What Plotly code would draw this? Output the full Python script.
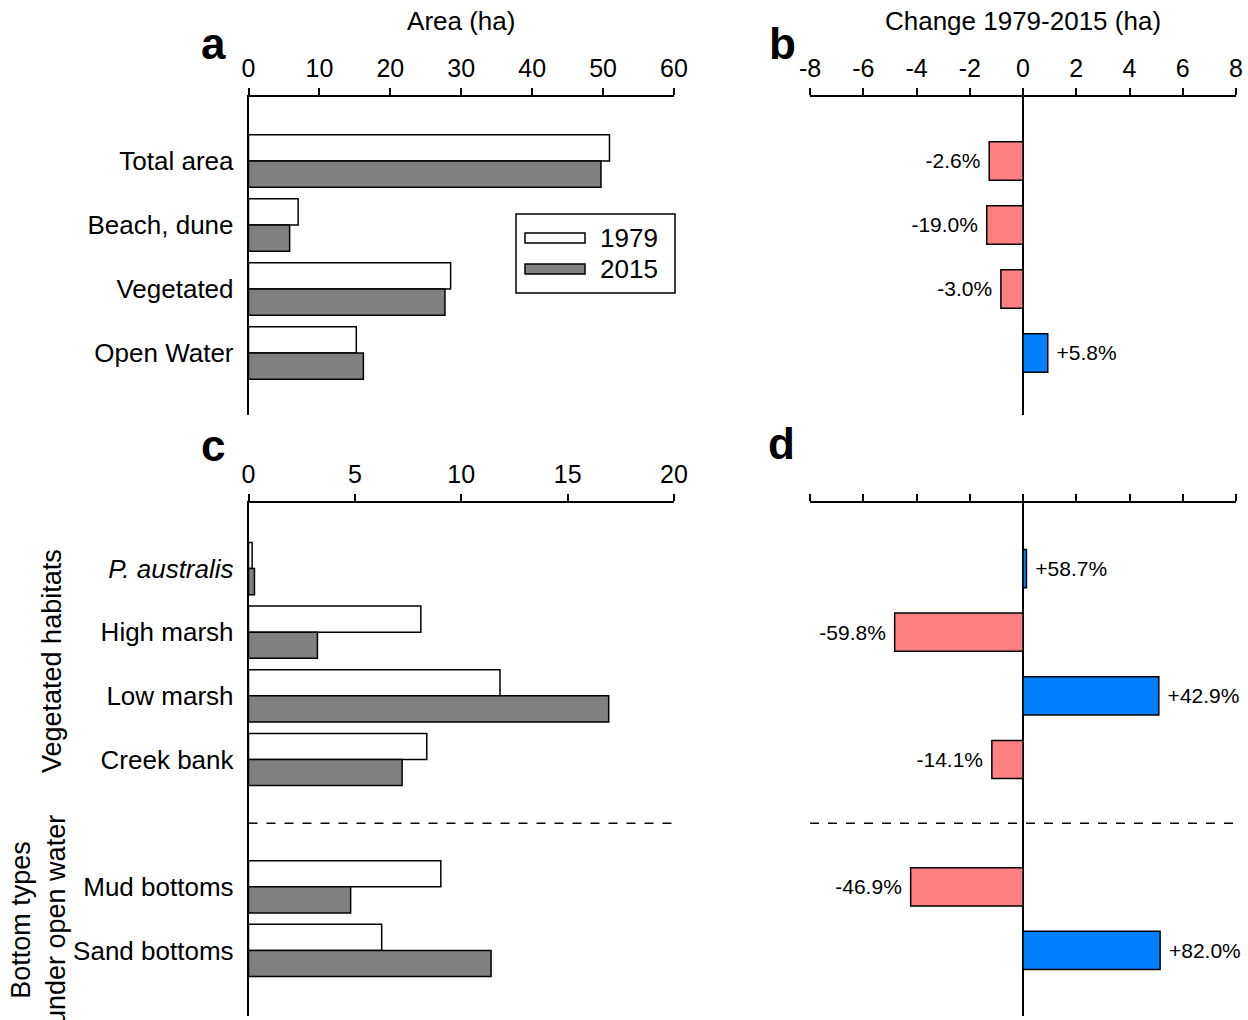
import plotly.graph_objects as go

# ---------------- data ----------------
series = ["1979", "2015"]
cats_a = ["Total area", "Beach, dune", "Vegetated", "Open Water"]
area_1979 = [50.9, 7.0, 28.5, 15.2]
area_2015 = [49.7, 5.8, 27.7, 16.2]
change_a = [-1.27, -1.36, -0.83, 0.93]
pct_a = ["-2.6%", "-19.0%", "-3.0%", "+5.8%"]

cats_c = ["P. australis", "High marsh", "Low marsh", "Creek bank", "Mud bottoms", "Sand bottoms"]
group_c = ["veg", "veg", "veg", "veg", "bottom", "bottom"]
hab_1979 = [0.17, 8.1, 11.82, 8.38, 9.04, 6.26]
hab_2015 = [0.28, 3.24, 16.93, 7.22, 4.8, 11.4]
change_c = [0.13, -4.82, 5.1, -1.17, -4.22, 5.15]
pct_c = ["+58.7%", "-59.8%", "+42.9%", "-14.1%", "-46.9%", "+82.0%"]

ticks_a = [0, 10, 20, 30, 40, 50, 60]
ticks_c = [0, 5, 10, 15, 20]
ticks_b = [-8, -6, -4, -2, 0, 2, 4, 6, 8]
ticklabels_b = ["-8", "-6", "-4", "-2", "0", "2", "4", "6", "8"]

# ---------------- style ----------------
FONT = "Arial, Liberation Sans, sans-serif"
W, H = 1248, 1020
WHITE, GREY, PINK, BLUE = "#ffffff", "#808080", "#ff8080", "#0080ff"
LW = 1.5

pos_a = list(range(len(cats_a)))
# categories in panel c: one empty slot between the two groups
pos_c = []
sep_pos = None
p = 0
for i, g in enumerate(group_c):
    if i > 0 and g != group_c[i - 1]:
        sep_pos = p
        p += 1
    pos_c.append(p)
    p += 1

def px(x):
    return x / W

def py(y):
    return 1 - y / H

def lab(texts, vals):
    nb = "\u00a0"
    return [(nb + t) if v > 0 else (t + nb) for t, v in zip(texts, vals)]

fig = go.Figure()

bar_w = 0.41
fig.add_trace(go.Bar(y=pos_a, x=area_1979, orientation="h", name=series[0], showlegend=False,
                     marker=dict(color=WHITE, line=dict(color="black", width=LW)),
                     width=bar_w, offset=-bar_w, xaxis="x", yaxis="y"))
fig.add_trace(go.Bar(y=pos_a, x=area_2015, orientation="h", name=series[1], showlegend=False,
                     marker=dict(color=GREY, line=dict(color="black", width=LW)),
                     width=bar_w, offset=0, xaxis="x", yaxis="y"))

fig.add_trace(go.Bar(y=pos_a, x=change_a, orientation="h", showlegend=False,
                     marker=dict(color=[BLUE if v > 0 else PINK for v in change_a],
                                 line=dict(color="black", width=LW)),
                     width=0.6, text=lab(pct_a, change_a), textposition="outside", constraintext="none",
                     textfont=dict(size=21, color="black", family=FONT), cliponaxis=False,
                     xaxis="x2", yaxis="y2"))

fig.add_trace(go.Bar(y=pos_c, x=hab_1979, orientation="h", name=series[0], showlegend=False,
                     marker=dict(color=WHITE, line=dict(color="black", width=LW)),
                     width=bar_w, offset=-bar_w, xaxis="x3", yaxis="y3"))
fig.add_trace(go.Bar(y=pos_c, x=hab_2015, orientation="h", name=series[1], showlegend=False,
                     marker=dict(color=GREY, line=dict(color="black", width=LW)),
                     width=bar_w, offset=0, xaxis="x3", yaxis="y3"))

fig.add_trace(go.Bar(y=pos_c, x=change_c, orientation="h", showlegend=False,
                     marker=dict(color=[BLUE if v > 0 else PINK for v in change_c],
                                 line=dict(color="black", width=LW)),
                     width=0.6, text=lab(pct_c, change_c), textposition="outside", constraintext="none",
                     textfont=dict(size=21, color="black", family=FONT), cliponaxis=False,
                     xaxis="x4", yaxis="y4"))

dom_left = [px(248.5), px(674)]
dom_right = [px(810), px(1236)]
dom_top = [py(415), py(97)]
dom_bot = [py(1016), py(503)]

xcommon = dict(side="top", showline=True, linecolor="black", linewidth=LW,
               ticks="outside", ticklen=7, tickwidth=LW, tickcolor="black",
               showgrid=False, tickfont=dict(size=25, color="black", family=FONT),
               ticklabelstandoff=1, automargin=False)
ycommon = dict(showgrid=False, zeroline=False, ticks="", automargin=False,
               tickfont=dict(size=26, color="black", family=FONT))

fig.update_layout(
    template="none",
    width=W, height=H, margin=dict(l=0, r=0, t=0, b=0, pad=0, autoexpand=False), autosize=False,
    paper_bgcolor="white", plot_bgcolor="white",
    font=dict(family=FONT, size=25, color="black"),
    barmode="overlay", showlegend=False,
    xaxis=dict(domain=dom_left, anchor="y", range=[0, 60], tickvals=ticks_a, zeroline=False,
               title=dict(text="Area (ha)", font=dict(size=26), standoff=16), **xcommon),
    yaxis=dict(domain=dom_top, anchor="x", range=[3.97, -1], tickvals=pos_a, ticktext=cats_a,
               showline=True, linecolor="black", linewidth=LW, ticklabelstandoff=8, **ycommon),
    xaxis2=dict(domain=dom_right, anchor="y2", range=[-8, 8], tickvals=ticks_b, ticktext=ticklabels_b,
                zeroline=True, zerolinecolor="black", zerolinewidth=LW,
                title=dict(text="Change 1979-2015 (ha)", font=dict(size=26), standoff=16), **xcommon),
    yaxis2=dict(domain=dom_top, anchor="x2", range=[3.97, -1], showticklabels=False,
                showline=False, **ycommon),
    xaxis3=dict(domain=dom_left, anchor="y3", range=[0, 20], tickvals=ticks_c, zeroline=False, **xcommon),
    yaxis3=dict(domain=dom_bot, anchor="x3", range=[7.03, -1.03], tickvals=pos_c,
                ticktext=[("<i>%s</i>" % c if c.startswith("P.") else c) for c in cats_c],
                showline=True, linecolor="black", linewidth=LW, ticklabelstandoff=8, **ycommon),
    xaxis4=dict(domain=dom_right, anchor="y4", range=[-8, 8], tickvals=ticks_b, showticklabels=False,
                zeroline=True, zerolinecolor="black", zerolinewidth=LW, **xcommon),
    yaxis4=dict(domain=dom_bot, anchor="x4", range=[7.03, -1.03], showticklabels=False,
                showline=False, **ycommon),
)

# separator between vegetated habitats and bottom types
for xr, yr in (("x3 domain", "y3"), ("x4 domain", "y4")):
    fig.add_shape(type="line", xref=xr, yref=yr, x0=0, x1=1.004, y0=sep_pos, y1=sep_pos,
                  line=dict(color="black", width=LW, dash="dash"))

# legend box (panel a)
fig.add_shape(type="rect", xref="paper", yref="paper", x0=px(516), x1=px(675), y0=py(293), y1=py(214),
              line=dict(color="black", width=LW), fillcolor="white")
for name, fill, yc in ((series[0], WHITE, 238), (series[1], GREY, 269)):
    fig.add_shape(type="rect", xref="paper", yref="paper", x0=px(525), x1=px(585),
                  y0=py(yc + 5), y1=py(yc - 5), line=dict(color="black", width=LW), fillcolor=fill)
    fig.add_annotation(text=name, x=px(598), y=py(yc), xref="paper", yref="paper", showarrow=False,
                       xanchor="left", yanchor="middle", font=dict(size=26, family=FONT, color="black"))

for letter, x, y in (("a", 213, 44), ("b", 782, 44), ("c", 213, 445), ("d", 781, 443)):
    fig.add_annotation(text="<b>%s</b>" % letter, x=px(x), y=py(y), xref="paper", yref="paper",
                       showarrow=False, xanchor="center", yanchor="middle",
                       font=dict(size=44, family=FONT, color="black"))

fig.add_annotation(text="Vegetated habitats", x=px(52), y=py(661), xref="paper", yref="paper",
                   showarrow=False, textangle=-90, xanchor="center", yanchor="middle",
                   font=dict(size=27, family=FONT, color="black"))
fig.add_annotation(text="Bottom types<br>under open water", x=px(38), y=py(920), xref="paper", yref="paper",
                   showarrow=False, textangle=-90, xanchor="center", yanchor="middle",
                   font=dict(size=27, family=FONT, color="black"))

fig.write_html("out.html", config={"responsive": False},
               post_script="document.body.style.margin='0';document.body.style.overflow='hidden';")
